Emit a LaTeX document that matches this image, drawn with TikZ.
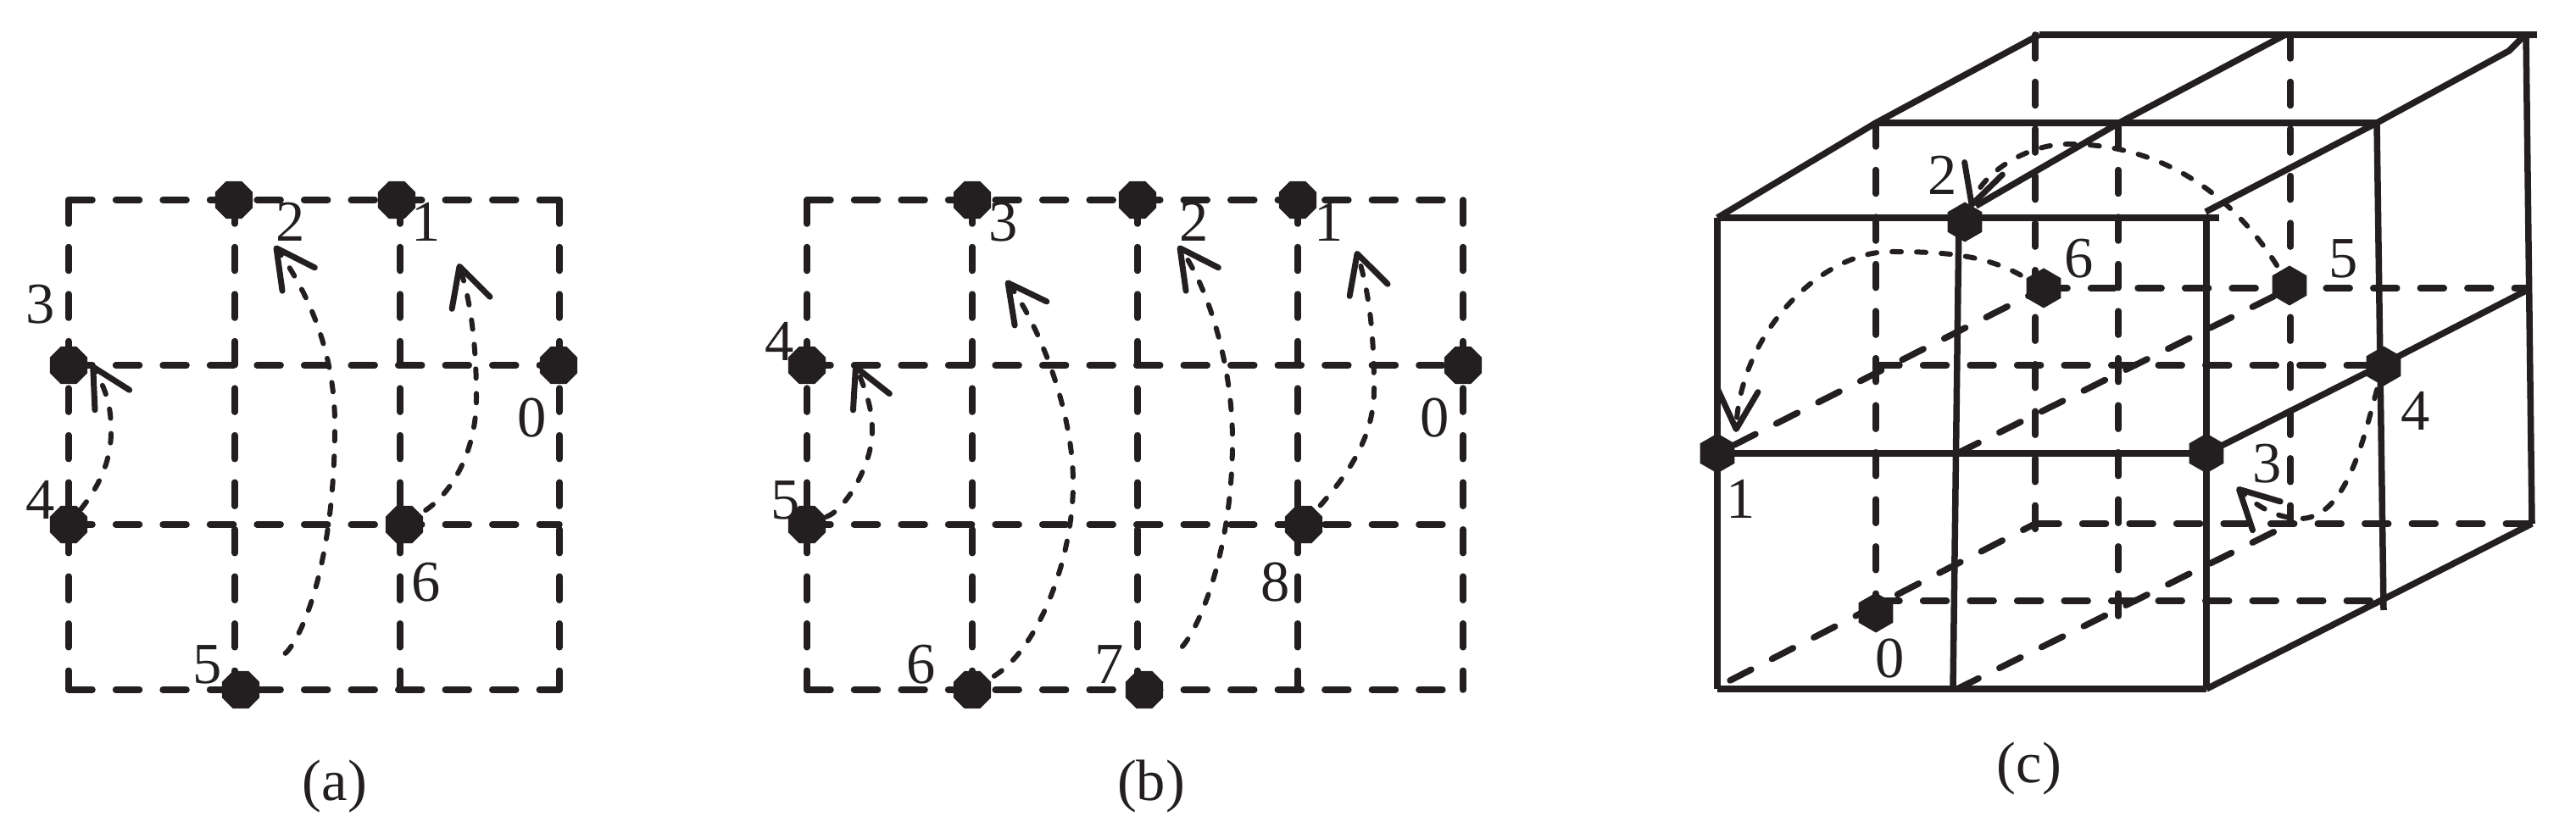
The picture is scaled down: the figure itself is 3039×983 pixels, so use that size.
\documentclass[tikz,border=0pt]{standalone}
\usepackage{fontspec}
\setmainfont{Liberation Serif}
\usetikzlibrary{arrows.meta,shapes.geometric}
\definecolor{ink}{HTML}{231F20}
\begin{document}
\begin{tikzpicture}[x=0.01cm,y=-0.01cm,color=ink]
    		% set the styles of the lines, the sites and the numbers
    		\tikzset{
    			grid/.style={
    				line width=0.075cm,
    				line cap=round,
    				dash pattern=on 0.28cm off 0.275cm
    				},
    			wall/.style={
    				line width=0.075cm,
    				line join=round
    				},
    			hop/.style={
    				line width=0.06cm,
    				line cap=round,
    				dash pattern=on 0.11cm off 0.18cm,
    				-{Straight Barb[length=0.45cm,width=0.47cm,line width=0.07cm,round]}
    				},
    			site/.style={
    				regular polygon,
    				regular polygon sides=8,
    				fill=ink,
    				inner sep=0pt,
    				minimum size=0.48cm
    				},
    			sitec/.style={
    				regular polygon,
    				regular polygon sides=6,
    				shape border rotate=30,
    				fill=ink,
    				inner sep=0pt,
    				minimum size=0.47cm
    				},
    			num/.style={
    				font=\fontsize{19.5}{20}\selectfont,
    				inner sep=0pt
    				}
    		}
    		\useasboundingbox (0,0) rectangle (3039,983);

    		% panel (a), grid
    		\draw[grid] (81,236) -- (660,236);
    		\draw[grid] (81,431) -- (660,431);
    		\draw[grid] (81,619) -- (660,619);
    		\draw[grid] (81,814) -- (660,814);
    		\draw[grid] (81,236) -- (81,814);
    		\draw[grid] (277,236) -- (277,814);
    		\draw[grid] (472,236) -- (472,814);
    		\draw[grid] (660,236) -- (660,814);

    		% panel (a), sites
    		\node[site] (a0) at (659,431) {};
    		\node[site] (a1) at (468,236) {};
    		\node[site] (a2) at (276,236) {};
    		\node[site] (a3) at (81,431) {};
    		\node[site] (a4) at (81,619) {};
    		\node[site] (a5) at (284,814) {};
    		\node[site] (a6) at (477,619) {};

    		% panel (a), hops
    		\coordinate (ta0) at (541,311);
    		\coordinate (ta2) at (324,290);
    		\coordinate (ta3) at (108,430);
    		\draw[hop,shorten <=2pt] (a6) .. controls (535,580) and (562,530) .. (562,470) .. controls (562,420) and (558,365) .. (ta0);
    		\draw[hop,shorten <=0.45cm] (a5) .. controls (350,760) and (395,680) .. (395,500) .. controls (395,410) and (359,339) .. (ta2);
    		\draw[hop] (a4) .. controls (120,570) and (131,540) .. (131,510) .. controls (131,490) and (130,468) .. (ta3);

    		% panel (a), numbers
    		\node[num] (la0) at (628,493) {0};
    		\node[num] (la1) at (503,262) {1};
    		\node[num] (la2) at (343,262) {2};
    		\node[num] (la3) at (48,359) {3};
    		\node[num] (la4) at (48,590) {4};
    		\node[num] (la5) at (245,784) {5};
    		\node[num] (la6) at (503,687) {6};
    		\node[num] (capa) at (395,928) {(a)};

    		% panel (b), grid
    		\draw[grid] (952,236) -- (1726,236);
    		\draw[grid] (952,431) -- (1726,431);
    		\draw[grid] (952,619) -- (1726,619);
    		\draw[grid] (952,814) -- (1726,814);
    		\draw[grid] (952,236) -- (952,814);
    		\draw[grid] (1147,236) -- (1147,814);
    		\draw[grid] (1342,236) -- (1342,814);
    		\draw[grid] (1531,236) -- (1531,814);
    		\draw[grid] (1726,236) -- (1726,814);

    		% panel (b), sites
    		\node[site] (b0) at (1726,431) {};
    		\node[site] (b1) at (1531,236) {};
    		\node[site] (b2) at (1342,236) {};
    		\node[site] (b3) at (1147,236) {};
    		\node[site] (b4) at (952,431) {};
    		\node[site] (b5) at (952,619) {};
    		\node[site] (b6) at (1147,814) {};
    		\node[site] (b7) at (1350,814) {};
    		\node[site] (b8) at (1538,619) {};

    		% panel (b), hops
    		\coordinate (tb0) at (1600,296);
    		\coordinate (tb2) at (1390,290);
    		\coordinate (tb3) at (1187,331);
    		\coordinate (tb4) at (1008,430);
    		\draw[hop,shorten <=2pt] (b8) .. controls (1585,565) and (1621,520) .. (1621,460) .. controls (1621,410) and (1618,353) .. (tb0);
    		\draw[hop,shorten <=0.45cm] (b7) .. controls (1415,740) and (1454,650) .. (1454,520) .. controls (1454,430) and (1425,339) .. (tb2);
    		\draw[hop,shorten <=2pt] (b6) .. controls (1225,765) and (1266,660) .. (1266,570) .. controls (1266,480) and (1222,378) .. (tb3);
    		\draw[hop] (b5) .. controls (1000,600) and (1029,545) .. (1029,510) .. controls (1029,490) and (1026,470) .. (tb4);

    		% panel (b), numbers
    		\node[num] (lb0) at (1693,493) {0};
    		\node[num] (lb1) at (1568,262) {1};
    		\node[num] (lb2) at (1409,262) {2};
    		\node[num] (lb3) at (1184,262) {3};
    		\node[num] (lb4) at (920,403) {4};
    		\node[num] (lb5) at (927,590) {5};
    		\node[num] (lb6) at (1087,784) {6};
    		\node[num] (lb7) at (1309,784) {7};
    		\node[num] (lb8) at (1505,687) {8};
    		\node[num] (capb) at (1358,928) {(b)};

    		% panel (c), hidden lines
    		\draw[grid] (2213,145) -- (2213,723);
    		\draw[grid] (2401,41) -- (2401,628);
    		\draw[grid] (2499,145) -- (2499,727);
    		\draw[grid] (2702,41) -- (2702,618);
    		\draw[grid] (2411,340) -- (2980,340);
    		\draw[grid] (2213,431) -- (2811,431);
    		\draw[grid] (2401,618) -- (2987,618);
    		\draw[grid] (2213,709) -- (2812,709);
    		\draw[grid] (2041,803) -- (2401,618);
    		\draw[grid] (2046,525) -- (2411,340);
    		\draw[grid] (2309,813) -- (2702,618);
    		\draw[grid] (2309,535) -- (2702,340);

    		% panel (c), solid lines
    		\draw[wall] (2026,257) -- (2618,257);
    		\draw[wall] (2026,535) -- (2603,535);
    		\draw[wall] (2026,813) -- (2603,813);
    		\draw[wall] (2026,257) -- (2026,813);
    		\draw[wall] (2311,257) -- (2304,813);
    		\draw[wall] (2603,257) -- (2603,813);
    		\draw[wall] (2213,145) -- (2804,145);
    		\draw[wall] (2406,41) -- (2993,41);
    		\draw[wall] (2026,257) -- (2213,145) -- (2406,41);
    		\draw[wall] (2331,243) -- (2500,145) -- (2696,41);
    		\draw[wall] (2602,250) -- (2804,145) -- (2960,60) -- (2977,43);
    		\draw[wall] (2804,145) -- (2812,720);
    		\draw[wall] (2980,41) -- (2987,618);
    		\draw[wall] (2603,813) -- (2812,707) -- (2987,618);
    		\draw[wall] (2603,535) -- (2811,430) -- (2980,343);

    		% panel (c), sites
    		\node[sitec] (c0) at (2213,723) {};
    		\node[sitec] (c1) at (2026,535) {};
    		\node[sitec] (c2) at (2318,262) {};
    		\node[sitec] (c3) at (2603,535) {};
    		\node[sitec] (c4) at (2812,432) {};
    		\node[sitec] (c5) at (2701,337) {};
    		\node[sitec] (c6) at (2411,340) {};

    		% panel (c), hops
    		\coordinate (tc1) at (2048,510);
    		\coordinate (tc2) at (2325,245);
    		\coordinate (tc3) at (2639,575);
    		\draw[hop,shorten <=2pt] (c6) .. controls (2340,300) and (2290,297) .. (2230,297) .. controls (2150,297) and (2054,390) .. (tc1);
    		\draw[hop,shorten <=2pt] (c5) .. controls (2640,240) and (2560,170) .. (2440,170) .. controls (2390,170) and (2338,205) .. (tc2);
    		\draw[hop,shorten <=2pt] (c4) .. controls (2790,510) and (2770,610) .. (2715,612) .. controls (2695,612) and (2670,605) .. (tc3);

    		% panel (c), numbers
    		\node[num] (lc0) at (2230,777) {0};
    		\node[num] (lc1) at (2054,589) {1};
    		\node[num] (lc2) at (2292,207) {2};
    		\node[num] (lc3) at (2675,547) {3};
    		\node[num] (lc4) at (2850,485) {4};
    		\node[num] (lc5) at (2765,305) {5};
    		\node[num] (lc6) at (2453,305) {6};
    		\node[num] (capc) at (2394,907) {(c)};
\end{tikzpicture}
\end{document}
